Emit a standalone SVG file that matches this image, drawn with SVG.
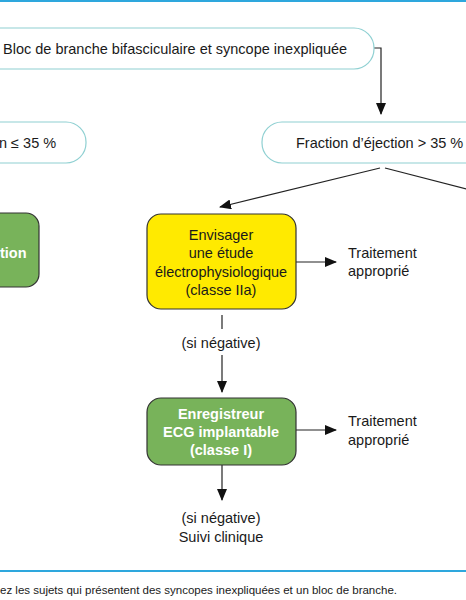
<svg xmlns="http://www.w3.org/2000/svg" width="466" height="600" viewBox="0 0 466 600">
<defs>
<marker id="ah" markerWidth="12" markerHeight="10" refX="11" refY="5" orient="auto" markerUnits="userSpaceOnUse">
<path d="M0,0 L12,5 L0,10 Z" fill="#111"/>
</marker>
<style>
.t{font-family:"Liberation Sans",Arial,sans-serif;font-size:14.5px;fill:#1a1a1a}
.c{text-anchor:middle}
.w{fill:#fff;font-weight:bold}
.pill{fill:#fff;stroke:#8fd0d2;stroke-width:1.2}
.yel{fill:#ffea00;stroke:#333;stroke-width:1.2}
.grn{fill:#78b35a;stroke:#333;stroke-width:1.2}
.ln{stroke:#222;stroke-width:1.2;fill:none}
.rule{stroke:#2ea7dd;stroke-width:2}
</style>
</defs>
<rect x="0" y="0" width="466" height="600" fill="#fff"/>
<line class="rule" x1="0" y1="1" x2="466" y2="1"/>
<line class="rule" x1="0" y1="571" x2="466" y2="571"/>

<g id="connectors">
<path class="ln" d="M374,48 H381 V114" marker-end="url(#ah)"/>
<line class="ln" x1="380" y1="168" x2="220" y2="207" marker-end="url(#ah)"/>
<line class="ln" x1="385" y1="168" x2="470" y2="190"/>
<line class="ln" x1="296" y1="262" x2="336" y2="262" marker-end="url(#ah)"/>
<line class="ln" x1="222" y1="315" x2="222" y2="329"/>
<line class="ln" x1="222" y1="355" x2="222" y2="392" marker-end="url(#ah)"/>
<line class="ln" x1="296" y1="430" x2="336" y2="430" marker-end="url(#ah)"/>
<line class="ln" x1="222" y1="465" x2="222" y2="500" marker-end="url(#ah)"/>
</g>

<g id="n-top">
<rect class="pill" x="-30" y="28" width="404" height="41" rx="20"/>
<text class="t" x="3" y="54">Bloc de branche bifasciculaire et syncope inexpliquée</text>
</g>
<g id="n-fe-low">
<rect class="pill" x="-120" y="122" width="206" height="41" rx="20"/>
<text class="t" x="-1" y="148">n ≤ 35 %</text>
</g>
<g id="n-fe-high">
<rect class="pill" x="262" y="122" width="240" height="41" rx="20"/>
<text class="t" x="296" y="148">Fraction d’éjection &gt; 35 %</text>
</g>
<g id="n-left-green">
<rect class="grn" x="-60" y="213" width="99" height="74" rx="13"/>
<text class="t w" x="0" y="258">tion</text>
</g>
<g id="n-ep">
<rect class="yel" x="147" y="214" width="149" height="95" rx="14"/>
<text class="t c" x="221" y="240">Envisager</text>
<text class="t c" x="221" y="258">une étude</text>
<text class="t c" x="221" y="277">électrophysiologique</text>
<text class="t c" x="221" y="295">(classe IIa)</text>
</g>
<g id="n-trt1">
<text class="t" x="348" y="258">Traitement</text>
<text class="t" x="348" y="276">approprié</text>
</g>
<g id="n-neg1">
<text class="t c" x="221" y="348">(si négative)</text>
</g>
<g id="n-ecg">
<rect class="grn" x="147" y="398" width="149" height="67" rx="14"/>
<text class="t c w" x="221" y="419">Enregistreur</text>
<text class="t c w" x="221" y="437">ECG implantable</text>
<text class="t c w" x="221" y="455">(classe I)</text>
</g>
<g id="n-trt2">
<text class="t" x="348" y="426">Traitement</text>
<text class="t" x="348" y="445">approprié</text>
</g>
<g id="n-suivi">
<text class="t c" x="221" y="523">(si négative)</text>
<text class="t c" x="221" y="542">Suivi clinique</text>
</g>
<text class="t" x="0" y="594" style="font-size:11.5px">ez les sujets qui présentent des syncopes inexpliquées et un bloc de branche.</text>
</svg>
